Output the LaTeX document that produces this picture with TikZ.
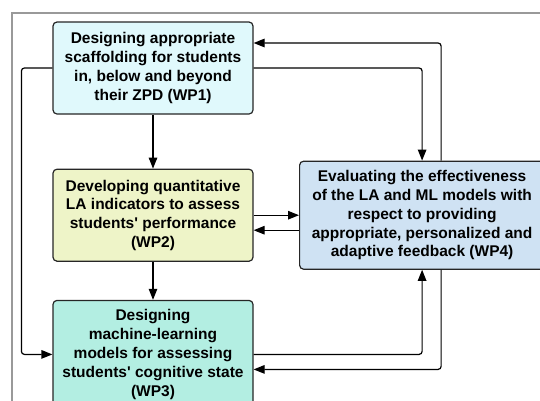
\documentclass[tikz,border=0pt]{standalone}
\usepackage{fontspec}
\setmainfont{Liberation Sans}
\usetikzlibrary{arrows.meta, positioning}
\definecolor{wponefill}{HTML}{E0F9FC}
\definecolor{wptwofill}{HTML}{EEF4C8}
\definecolor{wpthreefill}{HTML}{B3EEE2}
\definecolor{wpfourfill}{HTML}{CFE2F3}

\begin{document}
\begin{tikzpicture}[
  x=1pt, y=1pt,
  wpbox/.style={draw=black!85, line width=1.2pt, rounded corners=4pt, minimum width=200pt, inner sep=0pt,
    font=\fontsize{15.5}{18.8}\selectfont\bfseries, align=center},
  arrow/.style={-{Triangle[length=11pt, width=8.5pt]}, line width=1.2pt, rounded corners=3pt}
]
  \useasboundingbox (0,0) rectangle (540,-400);
  \draw[black!40, line width=1.3pt] (12,-13) rectangle (580,-440);

  \node[wpbox, fill=wponefill, minimum height=92pt] (wp1) at (153,-68)
    {Designing appropriate\\scaffolding for students\\in, below and beyond\\their ZPD (WP1)};
  \node[wpbox, fill=wptwofill, minimum height=92pt, below=54pt of wp1] (wp2)
    {Developing quantitative\\LA indicators to assess\\students\textquotesingle{} performance\\(WP2)};
  \node[wpbox, fill=wpthreefill, minimum height=108pt, below=38pt of wp2] (wp3)
    {Designing\\machine-learning\\models for assessing\\students\textquotesingle{} cognitive state\\(WP3)};
  \node[wpbox, fill=wpfourfill, minimum width=245pt, minimum height=108pt, anchor=west] (wp4) at (299,0 |- wp2.west)
    {Evaluating the effectiveness\\of the LA and ML models with\\respect to providing\\appropriate, personalized and\\adaptive feedback (WP4)};

  \draw[arrow] (wp1) -- (wp2);
  \draw[arrow] (wp2) -- (wp3);
  \draw[arrow] (wp1.west) -- ++(-31pt,0) |- (wp3.west);
  \draw[arrow] (wp1.east) -| (wp4.north);
  \draw[arrow] ([xshift=19pt]wp4.north) |- ([yshift=25pt]wp1.east);
  \draw[arrow] (wp2.east) -- (wp4.west);
  \draw[arrow] ([yshift=-15pt]wp4.west) -- ([yshift=-15pt]wp2.east);
  \draw[arrow] (wp3.east) -| (wp4.south);
  \draw[arrow] ([xshift=19pt]wp4.south) |- ([yshift=-15pt]wp3.east);
\end{tikzpicture}
\end{document}
